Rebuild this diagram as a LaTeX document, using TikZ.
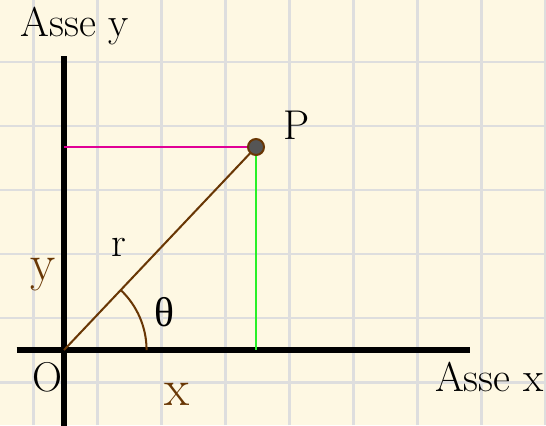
\documentclass[tikz,border=0pt]{standalone}
\usepackage{fontspec}
\newfontfamily\greekfont{Liberation Serif}
\definecolor{paper}{RGB}{254,248,227}
\definecolor{gridgray}{RGB}{222,222,222}
\definecolor{polarbrown}{RGB}{105,55,5}
\definecolor{projmagenta}{RGB}{225,0,150}
\definecolor{projgreen}{RGB}{40,240,40}
\definecolor{dotgray}{RGB}{85,85,85}

\begin{document}
\begin{tikzpicture}[
  gridline/.style={draw=gridgray, line width=1.3pt},
  axisline/.style={line width=2.7pt},
  lbl/.style={font=\fontsize{18.5}{22}\selectfont, inner sep=0pt, anchor=base},
  comp/.style={text=polarbrown, font=\fontsize{23}{27}\selectfont, inner sep=0pt, anchor=base}]
\fill[paper] (-1,-1.172) rectangle (7.531,5.469);
\useasboundingbox (-1,-1.172) rectangle (7.531,5.469);
% grid
\foreach \gx in {0,...,8} \draw[gridline] (-0.47+\gx,-1.172) to (-0.47+\gx,5.469);
\foreach \gy in {0,...,5} \draw[gridline] (-1,-0.5+\gy) to (7.531,-0.5+\gy);

\coordinate (O) at (0,0);
\coordinate (P) at (3,3.172);
\coordinate (Py) at (0,3.172);
\coordinate (Px) at (3,0);
\coordinate (ytop) at (0,4.59);
\coordinate (ybot) at (0,-1.25);
\coordinate (xleft) at (-0.74,0);
\coordinate (xright) at (6.34,0);

% axes
\draw[axisline] (ybot) to (ytop);
\draw[axisline] (xleft) to (xright);
\node[lbl, anchor=base west] (asy) at (-0.69,4.895) {Asse y};
\node[lbl, anchor=base west] (asx) at (5.79,-0.651) {Asse x};
\node[lbl] (o) at (-0.26,-0.65) {O};

% projections and radius
\draw[projmagenta, line width=0.9pt] (Py) to (P);
\draw[projgreen, line width=1pt] (P) to (Px);
\draw[polarbrown, line width=0.9pt] (O) to (P);
\draw[polarbrown, line width=0.9pt] (O) ++(1.29,0) arc[start angle=0, end angle=46.6, radius=1.29];
\node[circle, draw=polarbrown, fill=dotgray, line width=0.9pt, minimum size=0.25cm, inner sep=0pt] (pt) at (P) {};

\node[lbl, anchor=base west] (plbl) at (3.43,3.29) {P};
\node[lbl] (rlbl) at (0.86,1.458) {r};
\node[lbl] (tlbl) at (1.57,0.375) {\greekfont θ};
\node[comp] (ylbl) at (-0.33,1.09) {y};
\node[comp] (xlbl) at (1.77,-0.86) {x};
\end{tikzpicture}
\end{document}
